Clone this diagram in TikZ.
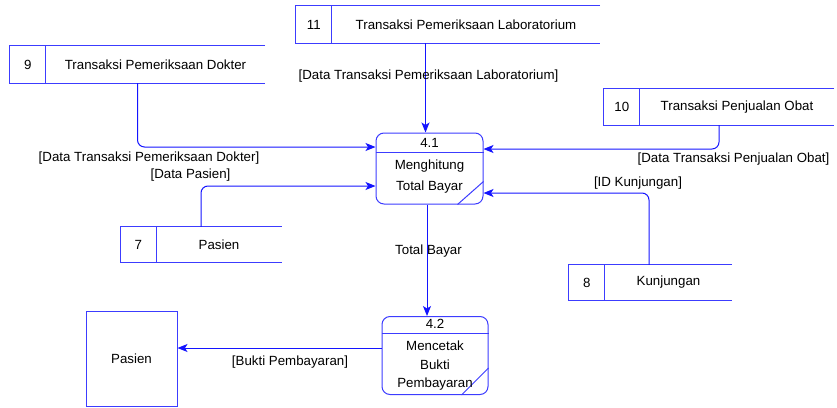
\documentclass[tikz,border=0pt]{standalone}
\usepackage{fontspec}
\setmainfont{Liberation Sans}
\usetikzlibrary{arrows.meta, positioning, calc}

\definecolor{dfdblue}{RGB}{20,20,255}
\definecolor{dfdline}{RGB}{60,60,255}

\begin{document}
\begin{tikzpicture}[x=1pt, y=-1pt,
        font=\fontsize{13.3}{15}\selectfont,
        store/.style={minimum width=#1, inner sep=0pt},
        storeline/.style={draw=dfdline, line width=1pt},
        process/.style={draw=dfdline, line width=1pt, rounded corners=8pt, inner sep=0pt},
        flow/.style={draw=dfdblue, line width=1pt, rounded corners=7pt, -{Stealth[length=10pt, width=8pt, inset=2.5pt]}},
        lbl/.style={inner sep=1pt}]
    \useasboundingbox (0,0) rectangle (837,407);

    % data stores
    \foreach \num/\cx/\cy/\w/\h/\txt in {9/137.5/64.5/255/37/Transaksi Pemeriksaan Dokter,
            11/448/24.5/304/37/Transaksi Pemeriksaan Laboratorium,
            10/719/107/230/36/Transaksi Penjualan Obat,
            7/201/244.5/161/35/Pasien,
            8/650.5/282.5/163/35/Kunjungan} {
        \node[store=\w pt, minimum height=\h pt] (ds\num) at (\cx,\cy) {};
        \draw[storeline] (ds\num.north east) -- (ds\num.north west) -- (ds\num.south west) -- (ds\num.south east);
        \draw[storeline] ([xshift=36pt]ds\num.north west) -- ([xshift=36pt]ds\num.south west);
        \node (ds\num no) at ([xshift=18pt]ds\num.west) {\num};
        \node (ds\num txt) at ([xshift=18pt]ds\num.center) {\txt};
    }

    % processes
    \node[process, minimum width=107pt, minimum height=71pt] (p41) at (429.5,168.5) {};
    \draw[storeline] ([yshift=-20pt]p41.north west) -- ([yshift=-20pt]p41.north east);
    \draw[storeline] ([xshift=-26pt]p41.south east) -- ([yshift=23pt]p41.south east);
    \node (p41id) at (429.5,143) {4.1};
    \node[align=center, font=\fontsize{13.3}{21}\selectfont] (p41txt) at (429.5,177) {Menghitung\\Total Bayar};

    \node[process, minimum width=106pt, minimum height=78pt] (p42) at (435,355.5) {};
    \draw[storeline] ([yshift=-17pt]p42.north west) -- ([yshift=-17pt]p42.north east);
    \draw[storeline] ([xshift=-27pt]p42.south east) -- ([yshift=27pt]p42.south east);
    \node (p42id) at (435,324) {4.2};
    \node[align=center, font=\fontsize{13.3}{18.5}\selectfont] (p42txt) at (435,366) {Mencetak\\Bukti\\Pembayaran};

    % external entity
    \node[draw=dfdline, line width=1pt, minimum width=91pt, minimum height=95pt] (pasien) at (131.5,358.5) {Pasien};

    % flows
    \coordinate (p42out) at ([yshift=7.5pt]p42.west);
    \draw[flow] ([xshift=-4pt]p41.north |- ds11.south) -- ([xshift=-4pt]p41.north);
    \draw[flow] (ds9.south) |- ([yshift=21.5pt]p41.west);
    \draw[flow] (ds10.south) |- ([yshift=19.5pt]p41.east);
    \draw[flow] (ds7.north) |- ([yshift=-17.5pt]p41.west);
    \draw[flow] ([xshift=-1.5pt]ds8.north) |- ([yshift=-24.5pt]p41.east);
    \draw[flow] ([xshift=-2.5pt]p41.south) -- ([xshift=-2.5pt]p41.south |- p42.north);
    \draw[flow] (p42out) -- (pasien.east |- p42out);

    % labels
    \node[lbl] (lblLab) at (428.5,76) {[Data Transaksi Pemeriksaan Laboratorium]};
    \node[lbl] (lblDok) at (149,158) {[Data Transaksi Pemeriksaan Dokter]};
    \node[lbl] (lblPas) at (190.5,175) {[Data Pasien]};
    \node[lbl] (lblObat) at (733.5,159) {[Data Transaksi Penjualan Obat]};
    \node[lbl] (lblKunj) at (638,183) {[ID Kunjungan]};
    \node[lbl] (lblTotal) at (428.5,251) {Total Bayar};
    \node[lbl] (lblBukti) at (290,362) {[Bukti Pembayaran]};
\end{tikzpicture}
\end{document}
